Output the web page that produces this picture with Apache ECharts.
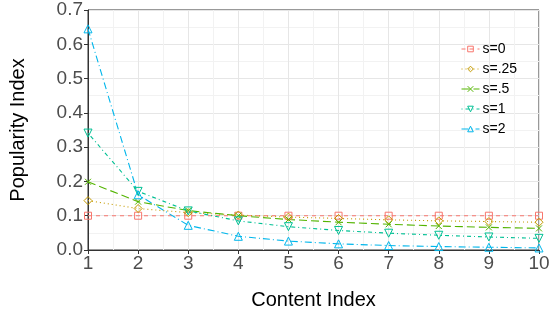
<!DOCTYPE html>
<html>
<head>
<meta charset="utf-8">
<script src="https://cdn.jsdelivr.net/npm/echarts@6/dist/echarts.min.js"></script>
<style>
  html, body { margin: 0; padding: 0; background: #fff; }
  #chart { width: 549px; height: 316px; }
</style>
</head>
<body>
<div id="chart"></div>
<script>
// content index 1..10
var contentIndex = [1, 2, 3, 4, 5, 6, 7, 8, 9, 10];
var seriesNames = ['s=0', 's=.25', 's=.5', 's=1', 's=2'];
var s0   = [0.100, 0.100, 0.100, 0.100, 0.100, 0.100, 0.100, 0.100, 0.100, 0.100];
var s025 = [0.144, 0.121, 0.109, 0.102, 0.096, 0.092, 0.088, 0.085, 0.083, 0.081];
var s05  = [0.199, 0.141, 0.115, 0.100, 0.089, 0.081, 0.075, 0.070, 0.066, 0.063];
var s1   = [0.341, 0.171, 0.114, 0.085, 0.068, 0.057, 0.049, 0.043, 0.038, 0.034];
var s2   = [0.645, 0.161, 0.072, 0.040, 0.026, 0.018, 0.013, 0.010, 0.008, 0.006];
var yTicks = [0, 0.1, 0.2, 0.3, 0.4, 0.5, 0.6, 0.7];

var colors = ['#F8766D', '#C49A00', '#53B400', '#00C094', '#00B6EB'];
var dashes = [[4, 4], [1, 3], [8, 4], [1, 3, 4, 3], [7, 3, 1, 3]];
// open outline shapes (square, diamond, cross, down triangle, up triangle)
var symbols = [
  'path://M0,0L10,0L10,10L0,10Z',
  'path://M5,0L10,5L5,10L0,5Z',
  'path://M0,0L10,10M10,0L0,10',
  'path://M0,0L10,0L5,9Z',
  'path://M5,0L10,9L0,9Z'
];
var sizes = [7, 8, 6, 8, 8];
var values = [s0, s025, s05, s1, s2];

function pairs(v) {
  return contentIndex.map(function (x, i) { return [x, v[i]]; });
}

var openStyle = function (i) {
  return { color: 'rgba(255,255,255,0)', borderColor: colors[i], borderWidth: 1 };
};

var series = seriesNames.map(function (name, i) {
  return {
    name: name,
    type: 'line',
    data: pairs(values[i]),
    symbol: symbols[i],
    symbolSize: sizes[i],
    lineStyle: { color: colors[i], width: 1.1, type: dashes[i] },
    itemStyle: openStyle(i)
  };
});

var myChart = echarts.init(document.getElementById('chart'));
var option = {
  animation: false,
  backgroundColor: '#fff',
  color: colors,
  grid: {
    left: 88, top: 10, right: 10, bottom: 66,
    containLabel: false, outerBoundsMode: 'none',
    show: true, borderColor: '#333', borderWidth: 1
  },
  legend: {
    orient: 'vertical',
    left: 456,
    top: 37,
    itemWidth: 18,
    itemHeight: 7,
    itemGap: 6,
    textStyle: { fontSize: 14, color: '#000', fontFamily: 'Liberation Sans', padding: [0, 0, 0, -2] },
    data: seriesNames.map(function (name, i) {
      return {
        name: name,
        itemStyle: openStyle(i),
        lineStyle: { color: colors[i], width: 1, type: dashes[i] }
      };
    })
  },
  xAxis: {
    type: 'value',
    min: 1,
    max: 10,
    interval: 1,
    name: 'Content Index',
    nameLocation: 'middle',
    nameGap: 40,
    nameTextStyle: { fontSize: 20, color: '#000', fontFamily: 'Liberation Sans' },
    axisLine: { lineStyle: { color: '#333' } },
    axisTick: { show: true, length: 4, lineStyle: { color: '#333' } },
    axisLabel: { fontSize: 19, color: '#4d4d4d', fontFamily: 'Liberation Sans', margin: 4 },
    splitLine: { lineStyle: { color: '#e6e6e6' } },
    minorTick: { show: false, splitNumber: 2 },
    minorSplitLine: { show: true, lineStyle: { color: '#f2f2f2' } }
  },
  yAxis: {
    type: 'value',
    min: 0,
    max: 0.7,
    interval: 0.1,
    name: 'Popularity Index',
    nameLocation: 'middle',
    nameGap: 60,
    nameTextStyle: { fontSize: 20, color: '#000', fontFamily: 'Liberation Sans' },
    axisLine: { show: true, lineStyle: { color: '#333' } },
    axisTick: { show: true, length: 4, lineStyle: { color: '#333' } },
    axisLabel: {
      fontSize: 19, color: '#4d4d4d', fontFamily: 'Liberation Sans', margin: 5,
      formatter: function (v) { return v.toFixed(1); }
    },
    splitLine: { lineStyle: { color: '#e6e6e6' } },
    minorTick: { show: false, splitNumber: 2 },
    minorSplitLine: { show: true, lineStyle: { color: '#f2f2f2' } }
  },
  series: series
};
myChart.setOption(option);
</script>
</body>
</html>
